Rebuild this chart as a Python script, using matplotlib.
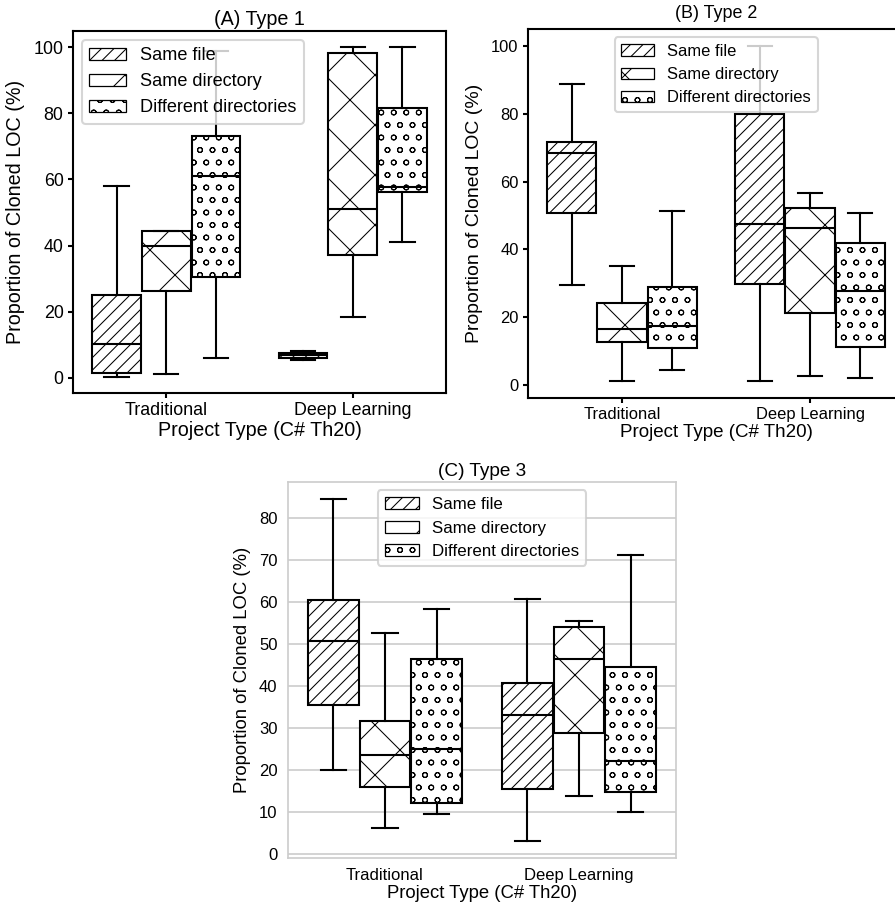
import matplotlib
matplotlib.use('Agg')
import matplotlib.pyplot as plt
from matplotlib.patches import Patch

plt.rcParams['font.family'] = ['Liberation Sans', 'DejaVu Sans']
plt.rcParams['hatch.linewidth'] = 0.5

categories = ['Traditional', 'Deep Learning']
groups = ['Same file', 'Same directory', 'Different directories']
hatches = ['////', 'x', 'oo']

# box order: Traditional (file, dir, diff dirs), Deep Learning (file, dir, diff dirs)
a_low = [0.3, 1.1, 5.8, 5.2, 18.3, 41.2]
a_q1 = [1.4, 26.3, 30.5, 6.0, 37.2, 56.2]
a_med = [10.3, 40.0, 61.0, 6.7, 51.2, 57.6]
a_q3 = [25.0, 44.4, 73.3, 7.5, 98.4, 81.6]
a_high = [57.9, 44.4, 98.8, 8.1, 100.0, 100.0]

b_low = [29.6, 1.2, 4.4, 1.4, 2.6, 2.1]
b_q1 = [50.8, 12.9, 11.0, 29.7, 21.2, 11.3]
b_med = [68.4, 16.7, 17.6, 47.6, 46.3, 27.8]
b_q3 = [71.8, 24.1, 29.0, 79.8, 52.2, 41.8]
b_high = [88.8, 35.0, 51.2, 100.0, 56.6, 50.8]

c_low = [20.1, 6.2, 9.5, 3.2, 13.9, 10.0]
c_q1 = [35.5, 16.0, 12.2, 15.6, 28.8, 14.9]
c_med = [50.8, 23.5, 25.1, 33.0, 46.5, 22.1]
c_q3 = [60.4, 31.7, 46.3, 40.6, 54.1, 44.6]
c_high = [84.4, 52.5, 58.3, 60.6, 55.4, 71.0]


def draw_panel(ax, low, q1, med, q3, high, title, fs, yticks,
               xl_fs, yl_fs, t_fs, t_pad=3, grid=False):
    w = 0.8 / 3
    stats, pos = [], []
    for i in range(6):
        stats.append(dict(whislo=low[i], q1=q1[i], med=med[i], q3=q3[i],
                          whishi=high[i], fliers=[]))
        pos.append(i // 3 + (i % 3 - 1) * w)
    lw = 1.0
    bp = ax.bxp(stats, positions=pos, widths=w * 0.98, patch_artist=True,
                showfliers=False,
                boxprops=dict(facecolor='white', edgecolor='black', linewidth=lw),
                medianprops=dict(color='black', linewidth=lw),
                whiskerprops=dict(color='black', linewidth=lw),
                capprops=dict(color='black', linewidth=lw))
    for i, box in enumerate(bp['boxes']):
        box.set_hatch(hatches[i % 3])
    ax.set_xlim(-0.5, 1.5)
    ax.set_xticks([0, 1])
    ax.set_xticklabels(categories, fontsize=fs)
    ax.set_yticks(yticks)
    ax.tick_params(axis='y', labelsize=fs)
    ax.set_xlabel('Project Type (C# Th20)', fontsize=xl_fs, labelpad=1)
    ax.set_ylabel('Proportion of Cloned LOC (%)', fontsize=yl_fs)
    ax.set_title(title, fontsize=t_fs, pad=t_pad)
    if grid:
        for s in ax.spines.values():
            s.set_color('0.8')
            s.set_linewidth(0.8)
        ax.yaxis.grid(True, color='0.8', linewidth=0.8)
        ax.set_axisbelow(True)
        ax.tick_params(length=0, pad=5)
    else:
        for s in ax.spines.values():
            s.set_linewidth(1.0)
        ax.tick_params(length=2.5, width=1.0, pad=2)
    handles = [Patch(facecolor='white', edgecolor='black', linewidth=0.6,
                     hatch=hatches[k], label=groups[k]) for k in range(3)]
    return handles


fig = plt.figure(figsize=(895 / 150, 911 / 150), dpi=150)

ax_a = fig.add_axes([73 / 895, 518 / 911, 373 / 895, 362 / 911])
h = draw_panel(ax_a, a_low, a_q1, a_med, a_q3, a_high, '(A) Type 1', 8.6,
               range(0, 101, 20), 9.5, 9.5, 9.5)
ax_a.legend(handles=h, loc='upper left', fontsize=8.7)

ax_b = fig.add_axes([528 / 895, 513 / 911, 376 / 895, 369 / 911])
h = draw_panel(ax_b, b_low, b_q1, b_med, b_q3, b_high, '(B) Type 2', 7.9,
               range(0, 101, 20), 9.0, 9.3, 8.6, t_pad=5.5)
ax_b.legend(handles=h, loc='upper center', fontsize=7.9)

ax_c = fig.add_axes([288 / 895, 53 / 911, 388 / 895, 376 / 911])
h = draw_panel(ax_c, c_low, c_q1, c_med, c_q3, c_high, '(C) Type 3', 8.0,
               range(0, 81, 10), 8.9, 8.9, 9.1, grid=True)
ax_c.legend(handles=h, loc='upper center', fontsize=8.1)

fig.savefig('out.png', dpi=150)
